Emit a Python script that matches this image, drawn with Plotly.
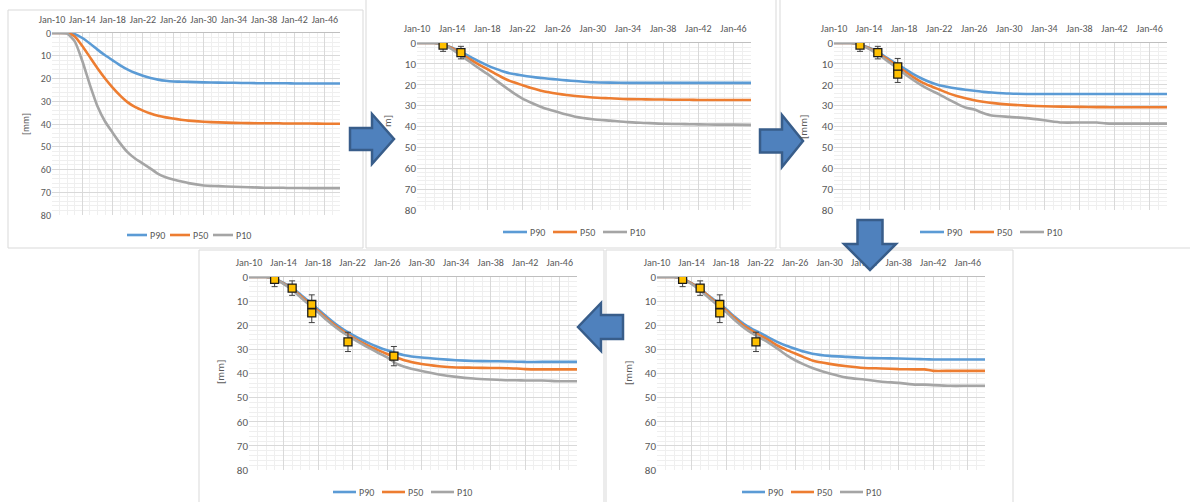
import plotly.graph_objects as go

W, H = 1190, 502

# ---------------- data ----------------
YEARS = [2010, 2011, 2012, 2013, 2014, 2015, 2016, 2017, 2018, 2019, 2020, 2021, 2022, 2023,
         2024, 2025, 2026, 2027, 2028, 2030, 2032, 2034, 2036, 2038, 2040, 2041, 2042, 2044,
         2046, 2048]
DATES = [f"{y}-01-01" for y in YEARS]

# Stage 1 (top left)
S1_P90 = [0, 0, 0, 0.5, 2.2, 4.6, 7.3, 9.8, 12.0, 14.2, 16.1, 17.6, 18.8, 19.8, 20.5, 21.0, 21.3,
          21.4, 21.5, 21.7, 21.8, 21.9, 22.0, 22.1, 22.1, 22.1, 22.2, 22.2, 22.2, 22.2]
S1_P50 = [0, 0, 0, 1.5, 5.7, 10.6, 15.5, 20.0, 24.0, 27.5, 30.5, 32.6, 34.1, 35.4, 36.4, 37.1, 37.6,
          38.1, 38.5, 39.0, 39.3, 39.5, 39.6, 39.7, 39.7, 39.8, 39.8, 39.8, 39.9, 39.9]
S1_P10 = [0, 0, 0.3, 3.7, 12.3, 22.8, 32.2, 38.9, 43.8, 48.5, 52.5, 55.3, 57.4, 59.6, 61.9, 63.4,
          64.4, 65.2, 66.0, 67.0, 67.3, 67.6, 67.8, 68.0, 68.0, 68.1, 68.1, 68.2, 68.2, 68.2]

# Stage 2 (top middle)
S2_P90 = [0, 0, 0, 0.8, 2.3, 4.3, 6.5, 8.7, 10.7, 12.4, 13.9, 14.9, 15.6, 16.2, 16.7, 17.1, 17.5,
          17.9, 18.2, 18.8, 19.0, 19.1, 19.1, 19.1, 19.1, 19.1, 19.1, 19.1, 19.1, 19.1]
S2_P50 = [0, 0, 0, 0.9, 2.5, 5.0, 7.7, 10.2, 12.5, 14.9, 17.1, 18.8, 20.2, 21.6, 22.7, 23.6, 24.3,
          24.9, 25.4, 26.1, 26.5, 26.9, 27.0, 27.1, 27.2, 27.2, 27.3, 27.3, 27.3, 27.3]
S2_P10 = [0, 0, 0, 1.0, 3.0, 6.0, 9.0, 12.0, 14.8, 17.9, 21.0, 24.0, 26.6, 28.6, 30.4, 31.9, 33.1,
          34.3, 35.3, 36.5, 37.2, 37.9, 38.3, 38.7, 38.8, 38.9, 39.0, 39.1, 39.1, 39.2]

# Stage 3 (top right)
S3_P90 = [0, 0, 0, 0.8, 2.3, 4.3, 7.0, 9.6, 12.2, 14.8, 17.0, 18.8, 20.2, 21.1, 21.8, 22.4, 22.9,
          23.4, 23.7, 24.2, 24.4, 24.4, 24.4, 24.4, 24.4, 24.4, 24.4, 24.4, 24.4, 24.4]
S3_P50 = [0, 0, 0, 0.9, 2.5, 4.8, 7.5, 10.4, 13.3, 16.2, 18.7, 20.6, 22.3, 24.0, 25.4, 26.5, 27.4,
          28.1, 28.7, 29.5, 30.0, 30.3, 30.5, 30.6, 30.7, 30.7, 30.8, 30.8, 30.8, 30.8]
S3_P10 = [0, 0, 0, 1.0, 2.8, 5.4, 8.3, 11.4, 14.6, 17.6, 20.3, 22.6, 24.6, 26.9, 29.0, 30.9, 31.9,
          33.5, 34.7, 35.4, 36.0, 37.0, 38.1, 38.1, 38.1, 38.5, 38.6, 38.6, 38.6, 38.6]

# Stage 4 (bottom right)
S4_P90 = [0, 0, 0, 0.8, 2.5, 4.8, 7.8, 10.5, 13.3, 16.5, 19.3, 21.5, 23.3, 25.2, 27.0, 28.5, 29.7,
          30.9, 31.8, 32.7, 33.1, 33.5, 33.7, 33.8, 34.0, 34.1, 34.2, 34.2, 34.2, 34.2]
S4_P50 = [0, 0, 0, 0.9, 2.6, 5.0, 8.0, 11.0, 13.8, 17.0, 20.0, 22.3, 24.3, 26.3, 28.5, 30.2, 31.7,
          33.2, 34.6, 36.0, 37.0, 37.7, 37.9, 38.2, 38.3, 38.3, 38.9, 38.9, 38.9, 38.9]
S4_P10 = [0, 0, 0, 1.0, 2.9, 5.6, 8.6, 11.7, 14.5, 17.8, 20.8, 23.3, 25.3, 27.4, 29.8, 32.4, 34.5,
          36.2, 37.7, 40.0, 41.7, 42.5, 43.4, 43.9, 44.6, 44.6, 44.8, 45.1, 45.1, 45.1]

# Stage 5 (bottom left)
S5_P90 = [0, 0, 0, 0.8, 2.4, 4.5, 7.4, 10.3, 13.4, 16.5, 19.4, 21.9, 24.0, 25.9, 27.6, 29.1, 30.4,
          31.5, 32.4, 33.4, 34.0, 34.5, 34.8, 34.9, 35.0, 35.1, 35.2, 35.2, 35.2, 35.2]
S5_P50 = [0, 0, 0, 0.9, 2.6, 4.9, 7.9, 11.0, 14.0, 17.2, 20.1, 22.7, 25.0, 27.0, 28.8, 30.4, 31.9,
          33.3, 34.5, 36.1, 37.0, 37.5, 37.6, 37.7, 37.8, 37.9, 38.2, 38.3, 38.3, 38.3]
S5_P10 = [0, 0, 0, 1.0, 2.8, 5.3, 8.5, 11.6, 14.6, 17.8, 20.7, 23.3, 25.5, 27.6, 29.6, 31.5, 33.3,
          35.8, 37.2, 39.0, 40.4, 41.4, 42.1, 42.5, 42.8, 42.8, 42.9, 42.9, 43.2, 43.2]

# Measurements (settlement observations with error bars)
MEAS_DATES = ["2012-12-20", "2015-01-01", "2017-04-10", "2017-04-10", "2021-06-20", "2026-10-15"]
MEAS_VALS = [1.0, 4.6, 11.4, 14.9, 26.9, 32.8]
MEAS_ERR = [3, 3, 4, 4, 4, 4]

SERIES_NAMES = ["P90", "P50", "P10"]
SERIES_COLORS = ["#5B9BD5", "#ED7D31", "#A5A5A5"]
FONT = "Calibri, Carlito, 'Liberation Sans Narrow', 'Liberation Sans', Arial, sans-serif"
TXT = "#595959"

# panel: (curves, n measurements, plot box px (x0, y0, x1, y1),
#         legend (left x, centre y, entry step, line length), y-title px,
#         (x tick size, y tick size, legend size, x label standoff))
PANELS = [
    ((S1_P90, S1_P50, S1_P10), 0, (52, 33, 340, 215), (127, 235, 43, 20), (25, 124), (10, 10, 10, 5)),
    ((S2_P90, S2_P50, S2_P10), 2, (417, 43, 751, 210), (503, 232, 50, 24), None, (10, 11, 10, 6)),
    ((S3_P90, S3_P50, S3_P10), 4, (834, 43, 1167, 210), (920, 232, 50, 24), (803, 127), (10, 11, 10, 6)),
    ((S5_P90, S5_P50, S5_P10), 6, (249, 277, 577, 470), (333, 492, 49, 23), (220, 372), (10, 11, 10, 6)),
    ((S4_P90, S4_P50, S4_P10), 5, (657, 277, 985, 470), (742, 492, 49, 23), (628, 373), (10, 11, 10, 6)),
]


def px(x):
    return x / W


def py(y):
    return 1 - y / H


fig = go.Figure()
layout = dict(
    width=W, height=H,
    margin=dict(l=0, r=0, t=0, b=0, pad=0, autoexpand=False),
    paper_bgcolor="white", plot_bgcolor="white", showlegend=False,
    font=dict(family=FONT, color=TXT, size=10),
    shapes=[], annotations=[],
)

# frames around each chart
FRAMES = [(8, 10, 363, 248), (366, -3, 776, 248), (780, -3, 1195, 248),
          (199, 250, 604, 506), (606, 250, 1013, 506)]
for (x0, y0, x1, y1) in FRAMES:
    layout["shapes"].append(dict(type="rect", xref="paper", yref="paper",
                                 x0=px(x0), x1=px(x1), y0=py(y1), y1=py(y0),
                                 line=dict(color="#d9d9d9", width=1), layer="below"))

for i, (curves, nmeas, box, leg, ytit, sizes) in enumerate(PANELS, start=1):
    fx, fy, fl, sto = sizes
    sfx = "" if i == 1 else str(i)
    xa, ya = "x" + sfx, "y" + sfx
    for name, col, vals in zip(SERIES_NAMES, SERIES_COLORS, curves):
        fig.add_trace(go.Scatter(
            x=DATES, y=vals, mode="lines", name=name, xaxis=xa, yaxis=ya,
            line=dict(color=col, width=2.6, shape="spline", smoothing=0.6),
            hoverinfo="skip"))
    if nmeas:
        fig.add_trace(go.Scatter(
            x=MEAS_DATES[:nmeas], y=MEAS_VALS[:nmeas], mode="markers", xaxis=xa, yaxis=ya,
            name="Measured",
            marker=dict(symbol="square", size=8, color="#FFC000",
                        line=dict(color="#1a1a1a", width=1.3)),
            error_y=dict(type="data", array=MEAS_ERR[:nmeas], visible=True,
                         color="#404040", thickness=1, width=3),
            hoverinfo="skip"))
    x0, y0, x1, y1 = box
    layout["xaxis" + sfx] = dict(
        type="date", domain=[px(x0), px(x1)], anchor=ya, side="top",
        range=["2010-01-01", "2048-01-01"], tick0="2010-01-01", dtick="M48",
        tickformat="%b-%y", showgrid=True, gridcolor="#d9d9d9", gridwidth=1,
        minor=dict(dtick="M12", showgrid=True, gridcolor="#efefef", gridwidth=1),
        showline=True, linecolor="#bfbfbf", linewidth=1, zeroline=False,
        ticks="", tickfont=dict(size=fx, color=TXT), ticklabelstandoff=sto,
        fixedrange=True)
    layout["yaxis" + sfx] = dict(
        domain=[py(y1), py(y0)], anchor=xa, range=[80, 0], dtick=10, tick0=0,
        showgrid=True, gridcolor="#d9d9d9", gridwidth=1,
        minor=dict(dtick=2, showgrid=True, gridcolor="#efefef", gridwidth=1),
        showline=False, zeroline=False, ticks="",
        tickfont=dict(size=fy, color=TXT), fixedrange=True)

    # legend drawn below each chart: short coloured line followed by its name
    lx, ly, step, ll = leg
    for k, (name, col) in enumerate(zip(SERIES_NAMES, SERIES_COLORS)):
        sx = lx + k * step
        layout["shapes"].append(dict(type="line", xref="paper", yref="paper",
                                     x0=px(sx), x1=px(sx + ll), y0=py(ly), y1=py(ly),
                                     line=dict(color=col, width=2.6)))
        layout["annotations"].append(dict(
            text=name, x=px(sx + ll + 1), y=py(ly), xref="paper", yref="paper",
            xanchor="left", yanchor="middle", showarrow=False,
            font=dict(size=fl, color=TXT)))

    if ytit:
        layout["annotations"].append(dict(
            text="[mm]", textangle=-90, x=px(ytit[0]), y=py(ytit[1]), xref="paper", yref="paper",
            showarrow=False, font=dict(size=fy, color=TXT),
            xanchor="center", yanchor="middle"))

# partly hidden y title of panel 2 (the arrow covers the rest)
layout["annotations"].append(dict(
    text="m]", textangle=-90, x=px(387), y=py(121), xref="paper", yref="paper",
    showarrow=False, font=dict(size=11, color=TXT), xanchor="center", yanchor="middle"))


def arrow_path(pts):
    return "M " + " L ".join(f"{px(a):.5f},{py(b):.5f}" for a, b in pts) + " Z"


def right_arrow(x0, tip, cy, hb, hh, hl):
    xb = tip - hl
    return [(x0, cy - hb), (xb, cy - hb), (xb, cy - hh), (tip, cy), (xb, cy + hh),
            (xb, cy + hb), (x0, cy + hb)]


def left_arrow(x0, tip, cy, hb, hh, hl):
    xb = tip + hl
    return [(x0, cy - hb), (xb, cy - hb), (xb, cy - hh), (tip, cy), (xb, cy + hh),
            (xb, cy + hb), (x0, cy + hb)]


def down_arrow(cx, y0, tip, hb, hh, hl):
    yb = tip - hl
    return [(cx - hb, y0), (cx - hb, yb), (cx - hh, yb), (cx, tip), (cx + hh, yb),
            (cx + hb, yb), (cx + hb, y0)]


ARROWS = [
    right_arrow(350, 394, 139, 11, 25, 22),
    right_arrow(760, 803, 141, 11.5, 26, 21),
    down_arrow(870, 220, 270, 12.5, 26, 26),
    left_arrow(623, 578, 327, 12, 24, 23),
]
for pts in ARROWS:
    layout["shapes"].append(dict(type="path", xref="paper", yref="paper", path=arrow_path(pts),
                                 fillcolor="#4F81BD", line=dict(color="#385D8A", width=2.5),
                                 layer="above"))

fig.update_layout(**layout)
# remove the browser's default page margin so the figure sits at the window's top-left corner
fig.write_html("out.html", config={"displayModeBar": False},
               post_script="document.body.style.margin='0';document.body.style.overflow='hidden';")
